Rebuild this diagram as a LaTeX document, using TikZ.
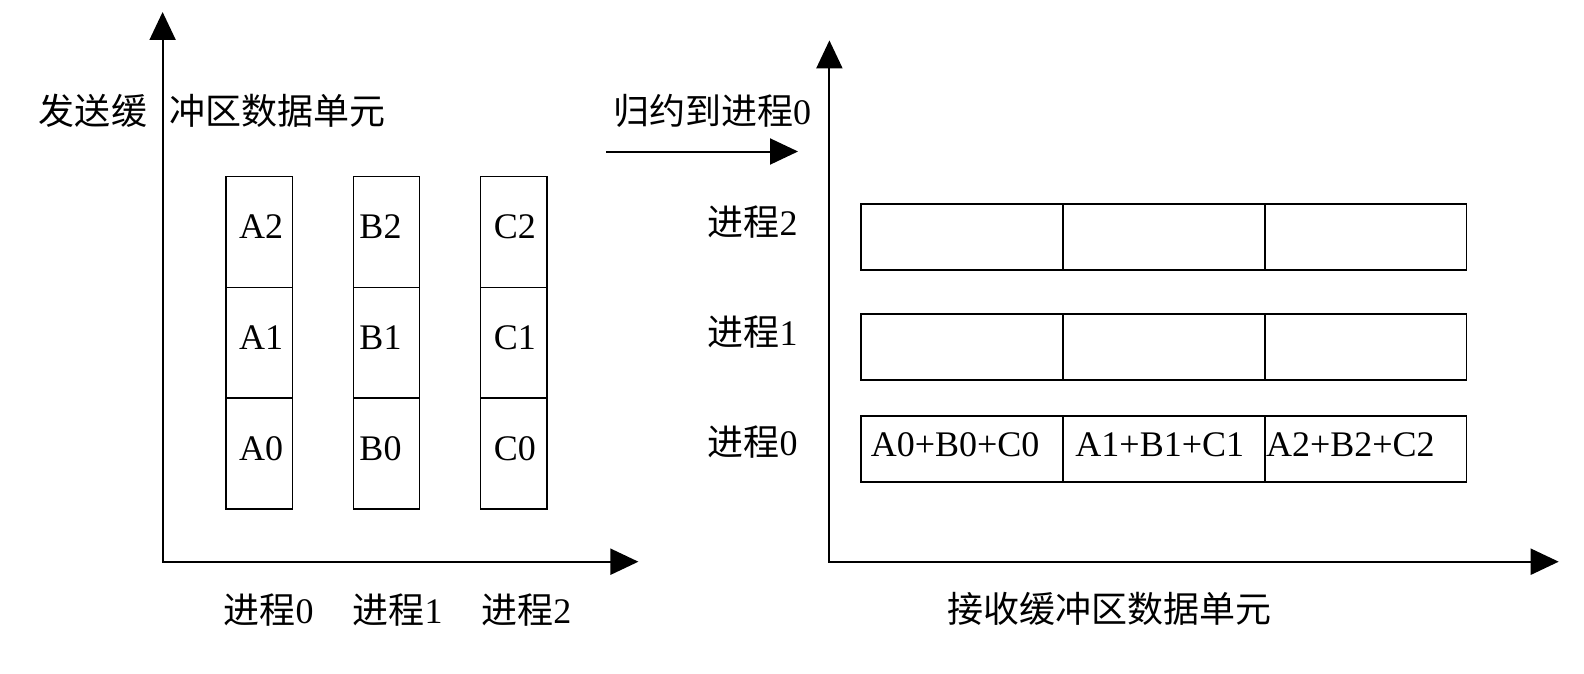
\documentclass[tikz,border=0pt]{standalone}
\usepackage{fontspec}
\setmainfont{Liberation Serif}
\newfontfamily\cjk{Noto Sans CJK SC}
\usetikzlibrary{arrows.meta,positioning}
\tikzset{
  >={Triangle[length=14pt,width=13pt]},
  axis/.style={<->,line width=1pt},
  flow/.style={->,line width=1pt},
  cell/.style={draw,line width=0.75pt,minimum width=33.1pt,minimum height=55.4pt,inner sep=0pt},
  slot/.style={draw,line width=0.75pt,minimum width=101pt,minimum height=33pt,inner sep=0pt},
  txt/.style={font=\fontsize{18}{20}\selectfont,inner sep=0pt},
}
\begin{document}
\begin{tikzpicture}[x=0.5pt,y=-0.5pt]
  \useasboundingbox (0,0) rectangle (1584,674);
  % send side
  \coordinate (lo) at (162.6,561.7);
  \coordinate (ly) at (162.6,12);
  \coordinate (lx) at (638.4,561.7);
  \draw[axis] (ly) |- (lx);
  \node[txt] (sendA) at (93,111) {\cjk 发送缓};
  \node[txt] (sendB) at (277,111) {\cjk 冲区数据单元};
  \foreach \col/\dx [count=\i from 0] in {A/1,B/-3,C/0.5} {
    \foreach \r in {0,1,2} {
      \node[cell] (\col\r) at ({259.2+127.3*\i},{453.6-110.8*\r}) {};
      \node[txt] (t\col\r) at ([xshift=\dx pt,yshift=2.5pt]\col\r.center) {\col\r};
    }
    \node[txt] (proc\i) at ({268.7+128.8*\i},610) {{\cjk 进程}\i};
  }
  % reduce arrow
  \coordinate (ms) at (606,151.5);
  \coordinate (me) at (798,151.5);
  \draw[flow] (ms) -- (me);
  \node[txt] (reduce) at (712,111) {{\cjk 归约到进程}0};
  % receive side
  \coordinate (ro) at (829.4,561.7);
  \coordinate (ry) at (829.4,40.4);
  \coordinate (rx) at (1558.7,561.7);
  \draw[axis] (ry) |- (rx);
  \foreach \r/\y/\ly in {0/449/441.7,1/347/331.7,2/237/221.7} {
    \foreach \k in {0,1,2}
      \node[slot] (s\r\k) at ({962.2+201.6*\k},\y) {};
    \node[txt] (rank\r) at (752.6,\ly) {{\cjk 进程}\r};
  }
  \node[txt,anchor=west] (sum0) at ([xshift=5pt,yshift=2pt]s00.west) {A0+B0+C0};
  \node[txt,anchor=west] (sum1) at ([xshift=6.5pt,yshift=2pt]s01.west) {A1+B1+C1};
  \node[txt,anchor=west] (sum2) at ([xshift=1pt,yshift=2pt]s02.west) {A2+B2+C2};
  \node[txt] (recv) at (1109,609) {\cjk 接收缓冲区数据单元};
\end{tikzpicture}
\end{document}
